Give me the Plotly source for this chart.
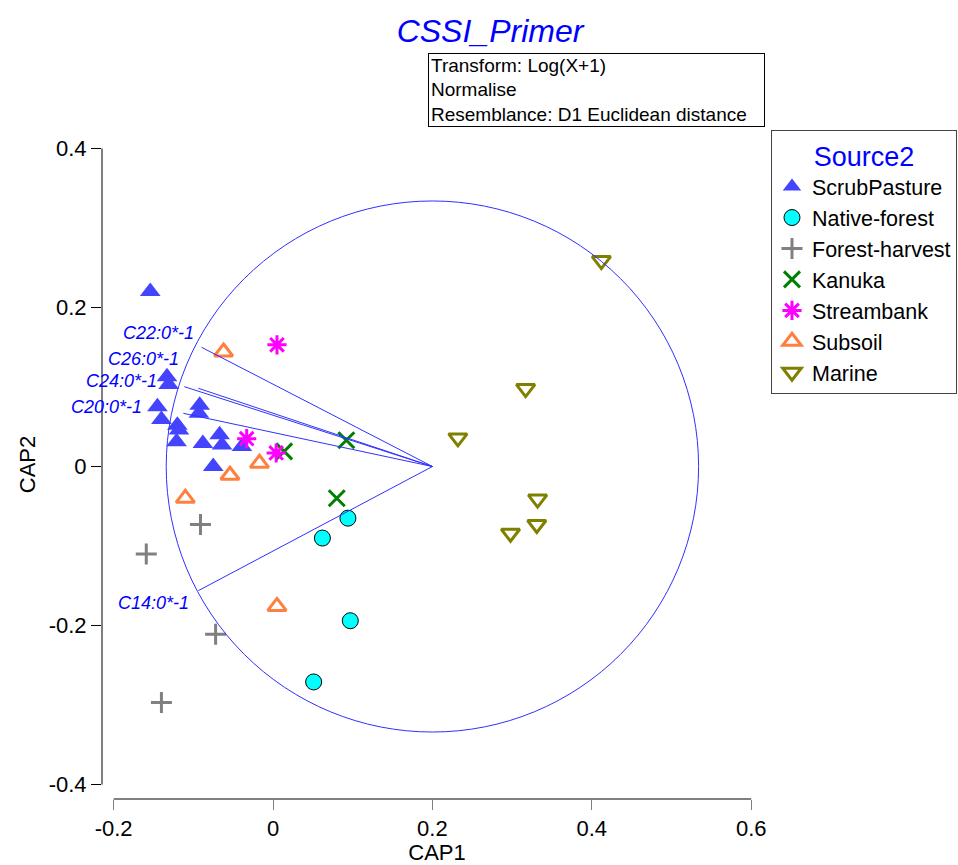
import plotly.graph_objects as go

# ---- sample scores on the canonical axes, by source group ----
scrub_x = [-0.154, -0.133, -0.131, -0.092, -0.093, -0.145, -0.140, -0.120, -0.118, -0.121, -0.088, -0.067, -0.064, -0.039, -0.075]
scrub_y = [0.220, 0.113, 0.103, 0.077, 0.067, 0.075, 0.059, 0.052, 0.046, 0.031, 0.029, 0.040, 0.027, 0.025, 0.000]

native_x = [0.094, 0.062, 0.097, 0.051]
native_y = [-0.065, -0.090, -0.194, -0.271]

harvest_x = [-0.091, -0.159, -0.072, -0.140]
harvest_y = [-0.073, -0.110, -0.211, -0.297]

kanuka_x = [0.092, 0.014, 0.080]
kanuka_y = [0.033, 0.019, -0.040]

stream_x = [0.005, -0.033, 0.004]
stream_y = [0.153, 0.035, 0.017]

subsoil_x = [-0.062, -0.017, -0.054, -0.110, 0.005]
subsoil_y = [0.144, 0.004, -0.011, -0.040, -0.176]

marine_x = [0.412, 0.317, 0.232, 0.332, 0.331, 0.298]
marine_y = [0.259, 0.098, 0.036, -0.041, -0.073, -0.084]

# ---- correlation vectors (drawn from the centre of the vector circle) ----
vec_labels = ["C22:0*-1", "C26:0*-1", "C24:0*-1", "C20:0*-1", "C14:0*-1"]
vec_x = [-0.0895, -0.0937, -0.1113, -0.1125, -0.0937]
vec_y = [0.1499, 0.0984, 0.1004, 0.0669, -0.1562]
vec_origin = (0.2, 0.0)
circle_radius = 0.334

# ---- axis ticks ----
x_ticks = [-0.2, 0, 0.2, 0.4, 0.6]
x_ticktext = ["-0.2", "0", "0.2", "0.4", "0.6"]
y_ticks = [-0.4, -0.2, 0, 0.2, 0.4]
y_ticktext = ["-0.4", "-0.2", "0", "0.2", "0.4"]

FONT = "Liberation Sans, Arial, sans-serif"
BLUE = "#0000FF"

groups = [
    ("ScrubPasture", scrub_x, scrub_y, dict(symbol="triangle-up", size=18, color="#4444FF", line=dict(width=0))),
    ("Native-forest", native_x, native_y, dict(symbol="circle", size=16, color="#00FFFF", line=dict(width=1, color="#000000"))),
    ("Forest-harvest", harvest_x, harvest_y, dict(symbol="cross-thin-open", size=15, color="#808080", line=dict(width=3, color="#808080"))),
    ("Kanuka", kanuka_x, kanuka_y, dict(symbol="x-thin-open", size=16, color="#008000", line=dict(width=3, color="#008000"))),
    ("Streambank", stream_x, stream_y, dict(symbol="asterisk-open", size=16, color="#FF00FF", line=dict(width=3, color="#FF00FF"))),
    ("Subsoil", subsoil_x, subsoil_y, dict(symbol="triangle-up-open", size=16, color="#FF7F3F", line=dict(width=3, color="#FF7F3F"))),
    ("Marine", marine_x, marine_y, dict(symbol="triangle-down-open", size=16, color="#808000", line=dict(width=3, color="#808000"))),
]

fig = go.Figure()
for name, xs, ys, mk in groups:
    fig.add_trace(go.Scatter(x=xs, y=ys, mode="markers", name=name, marker=mk, cliponaxis=False))

# vectors as line segments from the circle centre
for vx, vy in zip(vec_x, vec_y):
    fig.add_trace(go.Scatter(
        x=[vec_origin[0], vx], y=[vec_origin[1], vy], mode="lines",
        line=dict(color="#3030FF", width=1), showlegend=False, hoverinfo="skip",
    ))

# vector circle
fig.add_shape(type="circle", xref="x", yref="y",
              x0=vec_origin[0] - circle_radius, x1=vec_origin[0] + circle_radius,
              y0=vec_origin[1] - circle_radius, y1=vec_origin[1] + circle_radius,
              line=dict(color="#3030FF", width=1), layer="above")

# vector labels, offset outward from the vector tips
label_shift_x = [-6, -17, -25, -39, -7]
label_shift_y = [14, 29, 6, 6, -12]
for lab, vx, vy, sx, sy in zip(vec_labels, vec_x, vec_y, label_shift_x, label_shift_y):
    fig.add_annotation(x=vx, y=vy, text=lab, showarrow=False, xanchor="right", yanchor="middle",
                       xshift=sx, yshift=sy,
                       font=dict(family=FONT, size=18, color=BLUE, style="italic"))

# detached axis lines spanning only the tick range
fig.add_shape(type="line", xref="x", yref="paper", x0=x_ticks[0], x1=x_ticks[-1], y0=0, y1=0,
              line=dict(color="#808080", width=2), layer="above")
fig.add_shape(type="line", xref="paper", yref="y", x0=0, x1=0, y0=y_ticks[0], y1=y_ticks[-1],
              line=dict(color="#000000", width=1), layer="above")

# method notes box
fig.add_annotation(xref="paper", yref="paper", x=0.4866, y=1.1151, xanchor="left", yanchor="top",
                   text="Transform: Log(X+1)<br>Normalise<br>Resemblance: D1 Euclidean distance",
                   showarrow=False, align="left", valign="middle", width=331, height=68,
                   borderpad=2, bordercolor="#000000", borderwidth=1, bgcolor="#FFFFFF",
                   font=dict(family=FONT, size=19, color="#000000"))

fig.update_layout(
    width=958, height=865,
    margin=dict(l=102, r=186, t=130, b=66, autoexpand=False),
    paper_bgcolor="#FFFFFF", plot_bgcolor="#FFFFFF",
    font=dict(family=FONT, color="#000000"),
    title=dict(text="CSSI_Primer", x=0.5115, xref="container", xanchor="center",
               y=0.964, yref="container", yanchor="middle",
               font=dict(family=FONT, size=32, color=BLUE, style="italic")),
    xaxis=dict(range=[-0.21455, 0.62610], showgrid=False, zeroline=False, showline=False,
               tickmode="array", tickvals=x_ticks, ticktext=x_ticktext,
               ticks="outside", ticklen=10, tickcolor="#808080", tickwidth=1,
               tickfont=dict(family=FONT, size=22, color="#000000"),
               title=dict(text="CAP1", standoff=6, font=dict(family=FONT, size=22, color="#000000"))),
    yaxis=dict(range=[-0.41824, 0.42327], showgrid=False, zeroline=False, showline=False,
               tickmode="array", tickvals=y_ticks, ticktext=y_ticktext,
               ticks="outside", ticklen=10, tickcolor="#000000", tickwidth=1,
               tickfont=dict(family=FONT, size=22, color="#000000"),
               title=dict(text="CAP2", standoff=6, font=dict(family=FONT, size=22, color="#000000"))),
    legend=dict(x=0.9985, y=1.0, xanchor="left", yanchor="top", xref="paper", yref="paper",
                bgcolor="#FFFFFF", bordercolor="#444444", borderwidth=1,
                font=dict(family=FONT, size=21.5, color="#000000"),
                title=dict(text="Source2", side="top center", font=dict(family=FONT, size=27, color=BLUE)),
                itemsizing="trace", tracegroupgap=0),
    showlegend=True,
)

fig.write_html("out.html")
